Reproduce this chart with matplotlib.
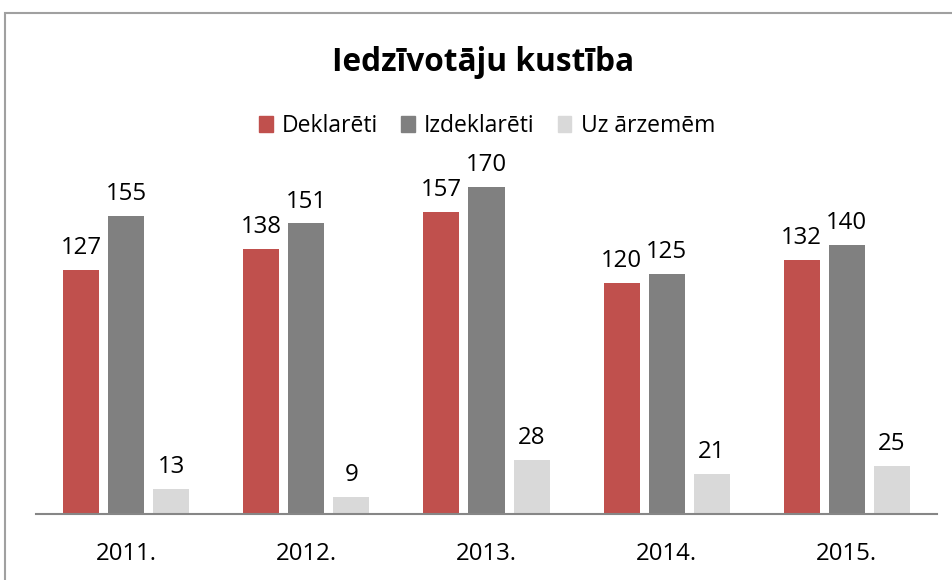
import matplotlib.pyplot as plt
import matplotlib.patches as mpatches
import numpy as np

plt.rcParams['font.family'] = ['Open Sans', 'DejaVu Sans']

years = ['2011.', '2012.', '2013.', '2014.', '2015.']
series_names = ['Deklarēti', 'Izdeklarēti', 'Uz ārzemēm']
deklareti = [127, 138, 157, 120, 132]
izdeklareti = [155, 151, 170, 125, 140]
uz_arzemem = [13, 9, 28, 21, 25]
colors = ['#C0504D', '#808080', '#D9D9D9']

fig = plt.figure(figsize=(9.53, 5.8), dpi=100)
ax = fig.add_axes([36 / 953, 66 / 580, 901 / 953, 364 / 580])

x = np.arange(len(years))
width = 0.2
for i, (vals, name) in enumerate(zip([deklareti, izdeklareti, uz_arzemem], series_names)):
    bars = ax.bar(x + (i - 1) * 0.25, vals, width, color=colors[i], label=name)
    ax.bar_label(bars, padding=7, fontsize=17.3)

ax.set_xlim(-0.5, len(years) - 0.5)
ax.set_ylim(0, 189.2)
ax.set_xticks(x)
ax.set_xticklabels(years, fontsize=17.3)
ax.tick_params(axis='x', length=0, pad=20)
ax.set_yticks([])
for side in ['top', 'right', 'left']:
    ax.spines[side].set_visible(False)
ax.spines['bottom'].set_color('#868686')
ax.spines['bottom'].set_linewidth(1.5)

fig.text(0.507, 0.893, 'Iedzīvotāju kustība', ha='center', va='center',
         fontsize=22.8, fontweight='bold')

handles = [mpatches.Patch(color=c) for c in colors]
fig.legend(handles, series_names, loc='center', bbox_to_anchor=(0.511, 0.783),
           ncol=3, frameon=False, fontsize=16.5, handlelength=0.6, handleheight=0.7,
           handletextpad=0.4, columnspacing=1.0)

# outer chart border
fig.patches.append(mpatches.Rectangle((5 / 953, -0.1), 1.2, (580 - 13) / 580 + 0.1,
                                      transform=fig.transFigure, fill=False,
                                      edgecolor='#A0A0A0', linewidth=1.5))

fig.savefig('out.png', dpi=100)
